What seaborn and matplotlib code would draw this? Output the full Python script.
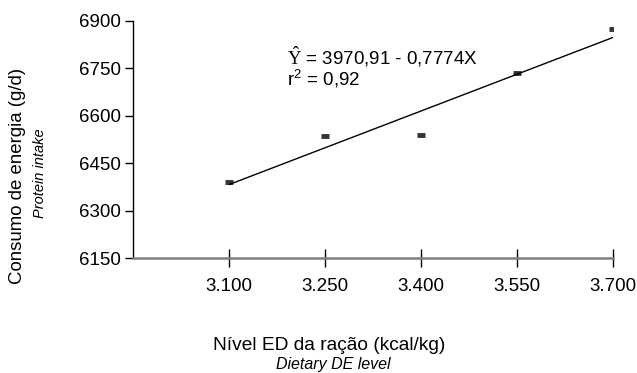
import matplotlib
matplotlib.use("Agg")
import matplotlib.pyplot as plt
import seaborn as sns
import pandas as pd

# energy level of the diet and observed intake
de_level = [3.100, 3.250, 3.400, 3.550, 3.700]
intake = [6392, 6536, 6539, 6734, 6874]
x_ticks = [3.100, 3.250, 3.400, 3.550, 3.700]
x_tick_labels = ["3.100", "3.250", "3.400", "3.550", "3.700"]
y_ticks = [6150, 6300, 6450, 6600, 6750, 6900]

sns.set_style("white")
plt.rcParams.update({'font.family': ['Liberation Sans', 'DejaVu Sans'],
                     'text.color': 'black',
                     'xtick.color': 'black',
                     'ytick.color': 'black',
                     'mathtext.fontset': 'custom',
                     'mathtext.rm': 'Liberation Serif',
                     'mathtext.sf': 'Liberation Sans'})

df = pd.DataFrame({"de": de_level, "intake": intake})

fig = plt.figure(figsize=(6.37, 3.73), dpi=100)
ax = fig.add_axes([0.209, 0.308, 0.753, 0.636])

sns.regplot(data=df, x="de", y="intake", ax=ax, ci=None, marker='_',
            scatter_kws={'s': 36, 'linewidths': 3.5, 'color': 'black'},
            line_kws={'color': 'black', 'linewidth': 1.0})

ax.set_xlim(2.95, 3.70)
ax.set_ylim(6150, 6900)
ax.set_xticks(x_ticks)
ax.set_xticklabels(x_tick_labels)
ax.set_yticks(y_ticks)
ax.set_xlabel("")
ax.set_ylabel("")

for side in ['top', 'right']:
    ax.spines[side].set_visible(False)
ax.spines['left'].set_color('black')
ax.spines['left'].set_linewidth(1.0)
ax.spines['bottom'].set_color('#808080')
ax.spines['bottom'].set_linewidth(1.8)
ax.tick_params(axis='x', direction='inout', length=13, width=1, color='black',
               labelsize=13.5, pad=8, bottom=True)
ax.tick_params(axis='y', direction='out', length=6, width=1, color='black',
               labelsize=13.5, pad=3, left=True)

ax.text(3.19, 6763, r"$\hat{\mathrm{Y}}$ = 3970,91 - 0,7774X", fontsize=13.5, va='baseline')
ax.text(3.19, 6696, r"r$^{\mathsf{2}}$ = 0,92", fontsize=13.5, va='baseline')

fig.text(18 / 637, 1 - 176 / 373, "Consumo de energia (g/d)", rotation=90,
         ha='center', va='center', fontsize=13.4)
fig.text(40 / 637, 1 - 173 / 373, "Protein intake", rotation=90, style='italic',
         ha='center', va='center', fontsize=10.5)
fig.text(329 / 637, 1 - 345 / 373, "Nível ED da ração (kcal/kg)",
         ha='center', va='center', fontsize=13.8)
fig.text(333 / 637, 1 - 364 / 373, "Dietary DE level", style='italic',
         ha='center', va='center', fontsize=11.5)

fig.savefig("out.png", dpi=100)
